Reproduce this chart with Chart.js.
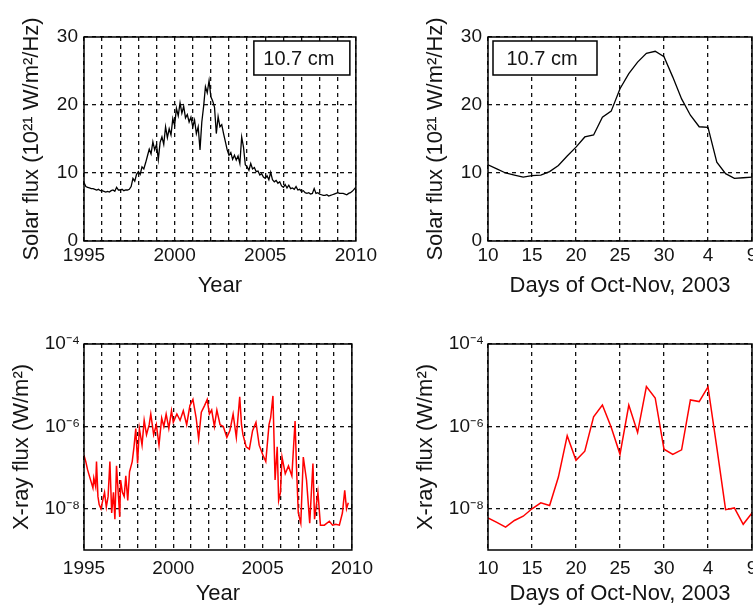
<!DOCTYPE html>
<html>
<head>
<meta charset="utf-8">
<script src="https://cdn.jsdelivr.net/npm/chart.js@4.4.1/dist/chart.umd.min.js"></script>
<style>
  html, body { margin:0; padding:0; background:#fff; width:753px; height:611px; overflow:hidden; }
  canvas { position:absolute; }
</style>
</head>
<body>
<canvas id="solarYears" width="380" height="300" style="left:0px;top:0px"></canvas>
<canvas id="solarStorm" width="380" height="300" style="left:404px;top:0px"></canvas>
<canvas id="xrayYears" width="380" height="311" style="left:0px;top:300px"></canvas>
<canvas id="xrayStorm" width="380" height="311" style="left:404px;top:300px"></canvas>
<script>
// 10.7 cm flux, 1995-2010 (units of 1e-21 W/m2/Hz)
var solarYearX = [
  1995.0,1995.1,1995.2,1995.3,1995.4,1995.5,1995.6,1995.7,1995.8,1995.9,
  1996.0,1996.1,1996.2,1996.3,1996.4,1996.5,1996.6,1996.7,1996.8,1996.9,
  1997.0,1997.1,1997.2,1997.3,1997.4,1997.5,1997.6,1997.7,1997.8,1997.9,
  1998.0,1998.1,1998.2,1998.3,1998.4,1998.5,1998.6,1998.7,1998.8,1998.9,
  1999.0,1999.1,1999.2,1999.3,1999.4,1999.5,1999.6,1999.7,1999.8,1999.9,
  2000.0,2000.1,2000.2,2000.3,2000.4,2000.5,2000.6,2000.7,2000.8,2000.9,
  2001.0,2001.1,2001.2,2001.3,2001.4,2001.5,2001.6,2001.7,2001.8,2001.9,
  2002.0,2002.1,2002.2,2002.3,2002.4,2002.5,2002.6,2002.7,2002.8,2002.9,
  2003.0,2003.1,2003.2,2003.3,2003.4,2003.5,2003.6,2003.7,2003.8,2003.9,
  2004.0,2004.1,2004.2,2004.3,2004.4,2004.5,2004.6,2004.7,2004.8,2004.9,
  2005.0,2005.1,2005.2,2005.3,2005.4,2005.5,2005.6,2005.7,2005.8,2005.9,
  2006.0,2006.1,2006.2,2006.3,2006.4,2006.5,2006.6,2006.7,2006.8,2006.9,
  2007.0,2007.1,2007.2,2007.3,2007.4,2007.5,2007.6,2007.7,2007.8,2007.9,
  2008.0,2008.1,2008.2,2008.3,2008.4,2008.5,2008.6,2008.7,2008.8,2008.9,
  2009.0,2009.1,2009.2,2009.3,2009.4,2009.5,2009.6,2009.7,2009.8,2009.9,
  2010.0
];
var solarYearFlux = [
  8.6, 8.0, 7.9, 7.8, 7.7, 7.7, 7.6, 7.5, 7.6, 7.4,
  7.4, 7.3, 7.2, 7.3, 7.2, 7.4, 7.5, 7.3, 7.9, 7.5,
  7.5, 7.6, 7.4, 7.5, 7.5, 7.6, 8.0, 9.2, 8.8, 9.8,
  10.2, 9.8, 10.9, 10.6, 11.5, 12.5, 13.5, 12.8, 14.6, 13.4,
  14.2, 12.0, 14.5, 15.3, 14.2, 16.8, 15.2, 16.5, 15.6, 18.0,
  17.0, 19.5, 18.4, 20.3, 18.8, 19.8, 18.1, 18.6, 17.5, 18.2,
  16.8, 17.8, 15.8, 16.8, 13.4, 17.5, 19.8, 22.7, 21.8, 23.6,
  21.2, 20.6, 19.7, 15.8, 18.3, 16.8, 17.1, 15.8, 14.6, 13.4,
  12.6, 13.0, 12.0, 12.6, 11.9, 12.5, 11.4, 15.3, 13.8, 11.2,
  10.9, 10.4, 11.4, 10.6, 10.8, 10.2, 10.3, 9.7, 9.9, 9.4,
  9.2, 9.6, 9.0, 10.1, 9.0, 8.7, 8.9, 8.5, 8.7, 8.1,
  7.9, 8.3, 7.8, 8.2, 7.7, 7.8, 7.6, 8.0, 7.5, 7.6,
  7.3, 7.4, 7.1, 7.0, 7.1, 6.9, 7.0, 7.7, 7.0, 7.1,
  6.9, 6.8, 6.7, 6.7, 6.8, 6.6, 6.7, 6.8, 6.9, 7.0,
  7.1, 7.0, 7.0, 7.0, 6.9, 6.8, 7.0, 7.1, 7.3, 7.6,
  7.9
];

// Oct-Nov 2003, day 10 = Oct 10, day 32 = Nov 1
var stormDays = [10,11,12,13,14,15,16,17,18,19,20,21,22,23,24,25,26,27,28,29,30,31,32,33,34,35,36,37,38,39,40];
var stormSolarFlux = [
  11.2, 10.6, 10.0, 9.7, 9.4, 9.6, 9.7, 10.2, 11.1, 12.5,
  13.8, 15.3, 15.6, 18.2, 19.1, 22.4, 24.6, 26.3, 27.6, 27.9,
  27.1, 24.1, 20.9, 18.5, 16.8, 16.7, 11.6, 9.9, 9.2, 9.3, 9.4
];
var stormXrayFlux = [
  6.0e-9, 4.7e-9, 3.6e-9, 5.2e-9, 6.6e-9, 1.0e-8, 1.4e-8, 1.2e-8, 5.9e-8, 5.9e-7,
  1.5e-7, 2.5e-7, 1.7e-6, 3.3e-6, 9.5e-7, 2.1e-7, 3.3e-6, 7.1e-7, 9.3e-6, 4.9e-6,
  2.8e-7, 2.1e-7, 2.7e-7, 4.4e-6, 4.0e-6, 9.1e-6, 3.1e-7, 9.5e-9, 1.05e-8, 4.2e-9, 7.9e-9
];

// X-ray flux, 1995-2010 (W/m2)
var xrayYearX = [
  1995.0,1995.1,1995.2,1995.3,1995.4,1995.5,1995.55,1995.65,1995.7,1995.78,1995.85,1995.95,
  1996.05,1996.15,1996.25,1996.35,1996.45,1996.55,1996.65,1996.73,1996.82,1996.9,
  1997.0,1997.05,1997.15,1997.25,1997.34,1997.45,1997.55,1997.7,1997.8,1997.9,
  1998.0,1998.1,1998.25,1998.37,1998.5,1998.65,1998.74,1998.9,
  1999.05,1999.2,1999.35,1999.47,1999.6,1999.75,1999.9,
  2000.0,2000.2,2000.38,2000.56,2000.75,2000.93,
  2001.1,2001.28,2001.42,2001.57,2001.75,2001.9,
  2002.02,2002.15,2002.3,2002.44,2002.62,2002.8,
  2003.0,2003.17,2003.35,2003.53,2003.72,2003.82,2003.9,
  2004.08,2004.26,2004.44,2004.63,2004.81,
  2005.0,2005.18,2005.36,2005.45,2005.58,2005.7,2005.82,2005.9,
  2006.0,2006.09,2006.27,2006.45,2006.64,2006.82,2006.9,
  2007.0,2007.14,2007.28,2007.46,2007.64,2007.82,2007.91,
  2008.1,2008.24,2008.46,2008.74,2008.92,
  2009.1,2009.3,2009.47,2009.6,2009.7,2009.8
];
var xrayYearFlux = [
  2.0e-7,1.4e-7,8.9e-8,6.3e-8,4.5e-8,3.2e-8,5.6e-8,3.5e-8,1.4e-7,2.0e-8,1.26e-8,1.0e-8,
  1.6e-8,2.5e-8,1.1e-8,2.0e-8,1.4e-7,7.9e-9,2.5e-8,5.6e-9,1.1e-7,3.2e-8,
  6.3e-9,5.0e-8,2.5e-8,2.0e-8,6.3e-8,1.6e-8,7.9e-8,1.4e-7,3.2e-7,8.9e-7,
  1.26e-7,8.9e-7,3.5e-7,1.4e-6,6.3e-7,1.1e-6,2.0e-6,6.3e-7,
  1.1e-6,3.5e-7,1.6e-6,1.0e-6,2.0e-6,8.9e-7,2.4e-6,
  1.26e-6,2.0e-6,1.4e-6,2.4e-6,1.1e-6,3.2e-6,
  4.5e-6,1.6e-6,5.0e-7,2.2e-6,3.2e-6,4.5e-6,
  2.0e-6,2.5e-6,1.0e-6,2.5e-6,1.1e-6,1.0e-6,
  5.4e-7,7.9e-7,2.0e-6,5.4e-7,5.2e-6,1.1e-6,6.3e-7,
  3.2e-7,2.8e-7,7.9e-7,1.26e-6,3.5e-7,
  2.1e-7,1.4e-7,1.1e-6,1.6e-6,5.5e-6,5.0e-8,3.2e-7,1.6e-8,
  2.5e-8,1.8e-7,7.1e-8,1.1e-7,6.3e-8,1.35e-6,1.0e-7,
  7.9e-9,4.5e-9,1.8e-7,5.0e-8,4.5e-9,1.26e-7,5.6e-9,
  2.5e-8,4.0e-9,4.0e-9,5.0e-9,4.0e-9,
  4.2e-9,4.0e-9,7.9e-9,2.8e-8,1.0e-8,1.4e-8
];

var yearLabelled = [1995, 2000, 2005, 2010];
var dayTicks = [10, 15, 20, 25, 30, 35, 40];
var dayLabels = ['10', '15', '20', '25', '30', '4', '9'];
var logTicks = [1e-8, 1e-6, 1e-4];
var logLabels = ['10\u207B\u2078', '10\u207B\u2076', '10\u207B\u2074'];

var FONT = 'Liberation Sans, Arial, Helvetica, sans-serif';
var INK = '#141414';

function pairs(xs, ys) {
  return xs.map(function (x, i) { return { x: x, y: ys[i] }; });
}

// frame round the plot area, plus the little "10.7 cm" label box
var framePlugin = {
  id: 'frame',
  afterDraw: function (chart, args, opts) {
    var a = chart.chartArea, ctx = chart.ctx;
    ctx.save();
    ctx.strokeStyle = '#000';
    ctx.lineWidth = 1.5;
    ctx.setLineDash([]);
    ctx.strokeRect(a.left, a.top, a.right - a.left, a.bottom - a.top);
    if (opts.box) {
      var w = opts.box.w, h = 34;
      var bx = opts.box.side === 'right' ? a.right - 6 - w : a.left + 5;
      var by = a.top + 4;
      ctx.fillStyle = '#fff';
      ctx.fillRect(bx, by, w, h);
      ctx.strokeRect(bx, by, w, h);
      ctx.fillStyle = INK;
      ctx.font = '20px ' + FONT;
      ctx.textAlign = 'center';
      ctx.textBaseline = 'middle';
      ctx.fillText(opts.box.text, bx + w / 2 - 3, by + h / 2 + 1);
    }
    ctx.restore();
  }
};

var grid = { color: '#111', lineWidth: 1.3, drawTicks: false };
var border = { display: false, dash: [4, 4] };
var tickFont = { family: FONT, size: 19 };
var titleFont = { family: FONT, size: 22 };

function yearAxis(h, tickPad, titlePad) {
  return {
    type: 'linear', min: 1995, max: 2010,
    afterFit: function (s) { s.height = h; },
    grid: grid, border: border,
    ticks: {
      stepSize: 1, autoSkip: false, maxRotation: 0, padding: tickPad, font: tickFont, color: INK,
      callback: function (v) { return yearLabelled.indexOf(v) >= 0 ? String(v) : ''; }
    },
    title: { display: true, text: 'Year', font: titleFont, color: INK, padding: { top: 0, bottom: titlePad } }
  };
}

function dayAxis(h, tickPad, titlePad) {
  return {
    type: 'linear', min: 10, max: 40,
    afterFit: function (s) { s.height = h; },
    grid: grid, border: border,
    ticks: {
      stepSize: 5, autoSkip: false, maxRotation: 0, padding: tickPad, font: tickFont, color: INK,
      callback: function (v) { var i = dayTicks.indexOf(v); return i >= 0 ? dayLabels[i] : ''; }
    },
    title: { display: true, text: 'Days of Oct-Nov, 2003', font: titleFont, color: INK, padding: { top: 0, bottom: titlePad } }
  };
}

function solarAxis() {
  return {
    type: 'linear', min: 0, max: 30,
    afterFit: function (s) { s.width = 84; },
    grid: grid, border: border,
    ticks: { stepSize: 10, padding: 6, font: tickFont, color: INK },
    title: { display: true, text: 'Solar flux (10\u00B2\u00B9 W/m\u00B2/Hz)', font: titleFont, color: INK, padding: { top: 19, bottom: 0 } }
  };
}

function xrayAxis() {
  return {
    type: 'logarithmic', min: 1e-9, max: 1e-4,
    afterFit: function (s) { s.width = 84; },
    afterBuildTicks: function (s) { s.ticks = logTicks.map(function (v) { return { value: v }; }); },
    grid: grid, border: border,
    ticks: {
      padding: 4, font: tickFont, color: INK,
      callback: function (v) { var i = logTicks.indexOf(v); return i >= 0 ? logLabels[i] : ''; }
    },
    title: { display: true, text: 'X-ray flux (W/m\u00B2)', font: titleFont, color: INK, padding: { top: 9, bottom: 0 } }
  };
}

function makeChart(id, data, color, width, pad, xAxis, yAxis, box) {
  return new Chart(document.getElementById(id), {
    type: 'line',
    data: { datasets: [{ data: data, borderColor: color, borderWidth: width, pointRadius: 0, tension: 0 }] },
    options: {
      responsive: false,
      animation: false,
      layout: { padding: pad },
      plugins: { legend: { display: false }, tooltip: { enabled: false }, frame: { box: box } },
      scales: { x: xAxis, y: yAxis }
    },
    plugins: [framePlugin]
  });
}

makeChart('solarYears', pairs(solarYearX, solarYearFlux), '#000', 1.3,
  { top: 37, right: 22, left: 0, bottom: 0 }, yearAxis(59, 3, 1), solarAxis(),
  { text: '10.7 cm', side: 'right', w: 96 });

makeChart('solarStorm', pairs(stormDays, stormSolarFlux), '#000', 1.3,
  { top: 37, right: 32, left: 0, bottom: 0 }, dayAxis(59, 3, 1), solarAxis(),
  { text: '10.7 cm', side: 'left', w: 104 });

makeChart('xrayYears', pairs(xrayYearX, xrayYearFlux), '#ff0000', 1.5,
  { top: 44, right: 22, left: 0, bottom: 0 }, yearAxis(61, 7, 4), xrayAxis(), null);

makeChart('xrayStorm', pairs(stormDays, stormXrayFlux), '#ff0000', 1.5,
  { top: 44, right: 32, left: 0, bottom: 0 }, dayAxis(61, 7, 4), xrayAxis(), null);
</script>
</body>
</html>
